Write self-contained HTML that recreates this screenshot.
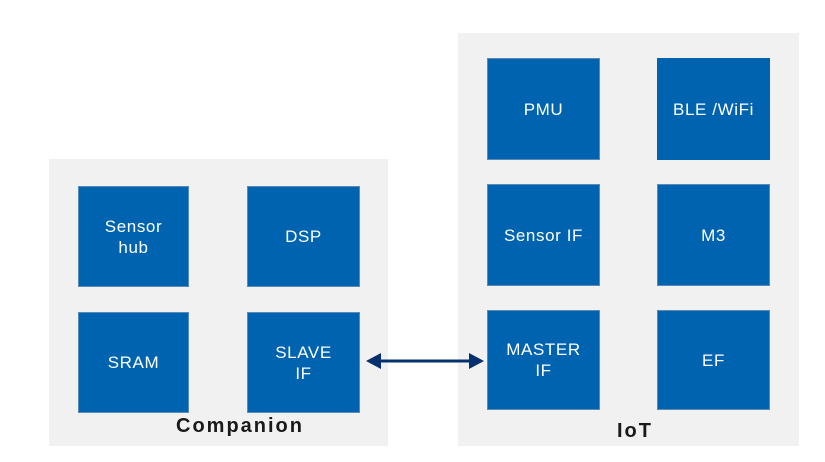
<!DOCTYPE html>
<html><head><style>
body{margin:0;width:825px;height:462px;background:#fff;position:relative;font-family:"Liberation Sans",sans-serif;overflow:hidden}
.p{position:absolute;background:#f1f1f1}
.b{position:absolute;background:#0063b0;border:1px solid #5a8ab8;box-sizing:border-box;color:#fff;font-size:17px;letter-spacing:0.6px;display:flex;align-items:center;justify-content:center;text-align:center;line-height:21px}
.l{position:absolute;font-weight:bold;font-size:20px;letter-spacing:2px;color:#1a1a1a}
</style></head><body>
<div class="p" style="left:49px;top:159px;width:339px;height:287px"></div>
<div class="p" style="left:458px;top:33px;width:341px;height:413px"></div>
<div class="b" style="left:78px;top:186px;width:111px;height:101px">Sensor<br>hub</div>
<div class="b" style="left:247px;top:186px;width:113px;height:101px">DSP</div>
<div class="b" style="left:78px;top:312px;width:111px;height:101px">SRAM</div>
<div class="b" style="left:247px;top:312px;width:113px;height:101px">SLAVE<br>IF</div>
<div class="b" style="left:487px;top:58px;width:113px;height:102px">PMU</div>
<div class="b" style="left:657px;top:58px;width:113px;height:102px;border:none">BLE /WiFi</div>
<div class="b" style="left:487px;top:184px;width:113px;height:102px">Sensor IF</div>
<div class="b" style="left:657px;top:184px;width:113px;height:102px">M3</div>
<div class="b" style="left:487px;top:310px;width:113px;height:100px">MASTER<br>IF</div>
<div class="b" style="left:657px;top:310px;width:113px;height:100px">EF</div>
<div class="l" style="left:176px;top:415px">Companion</div>
<div class="l" style="left:617px;top:420px">IoT</div>
<svg style="position:absolute;left:0;top:0" width="825" height="462">
<line x1="378" y1="361" x2="472" y2="361" stroke="#06306e" stroke-width="3"/>
<polygon points="366,361 381,353 381,369" fill="#06306e"/>
<polygon points="484,361 469,353 469,369" fill="#06306e"/>
</svg>
</body></html>
